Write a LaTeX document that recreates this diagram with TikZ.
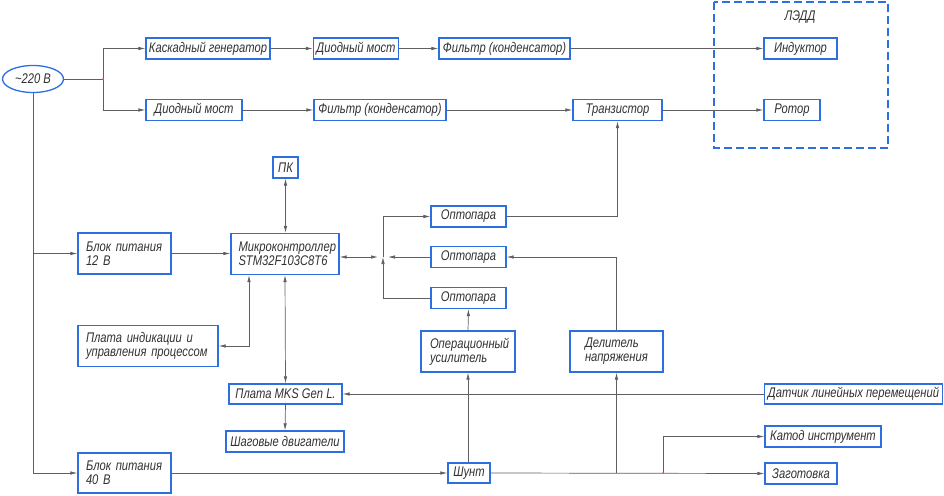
\documentclass[tikz,border=0pt]{standalone}
\usepackage{fontspec}
\newfontfamily\gostfont{Liberation Sans}[FakeStretch=0.8]
\usetikzlibrary{arrows.meta,shapes.geometric}
\definecolor{boxblue}{RGB}{45,110,225}
\definecolor{wiregray}{RGB}{95,95,95}
\definecolor{txtgray}{RGB}{50,50,50}
\begin{document}
\begin{tikzpicture}[x=1pt,y=-1pt,
  blk/.style={draw=boxblue,line width=1.3pt,fill=white,text=txtgray,
    font=\gostfont\itshape\fontsize{14}{14}\selectfont,
    inner xsep=3pt,inner ysep=0pt,minimum height=21pt},
  blktwo/.style={blk,align=left,inner xsep=8pt,minimum height=41pt},
  wire/.style={draw=wiregray,line width=0.7pt},
  arr/.style={wire,-{Latex[length=7pt,width=3.5pt]}},
  arrboth/.style={wire,{Latex[length=7pt,width=3.5pt]}-{Latex[length=7pt,width=3.5pt]}}]
\useasboundingbox (0,0) rectangle (944,495);

\node[blk,ellipse,minimum width=61pt,minimum height=27pt] (src) at (33,79) {\textasciitilde220~В};

\node[blk,minimum width=124pt] (kg) at (208,48.5) {Каскадный генератор};
\node[blk,minimum width=84pt] (dma) at (356,48.5) {Диодный мост};
\node[blk,minimum width=131pt] (fa) at (504.5,48.5) {Фильтр (конденсатор)};
\node[blk,minimum width=96pt] (dmb) at (194,110) {Диодный мост};
\node[blk,minimum width=132pt] (fb) at (380,110) {Фильтр (конденсатор)};
\node[blk,minimum width=89pt] (tr) at (617.5,110) {Транзистор};

\draw[boxblue,line width=1.3pt,dash pattern=on 8pt off 4pt] (714,2) rectangle (888,148);
\node[text=txtgray,font=\gostfont\itshape\fontsize{14}{14}\selectfont] (ledd) at (800,17) {ЛЭДД};
\node[blk,minimum width=73pt] (ind) at (800.5,48.5) {Индуктор};
\node[blk,minimum width=56pt] (rot) at (792,110) {Ротор};

\node[blk,minimum width=25pt] (pk) at (285.5,167.5) {ПК};
\node[blktwo,text width=93pt,inner xsep=7.5pt] (mk) at (285,254) {Микроконтроллер\\STM32F103C8T6};
\node[blktwo,text width=77pt] (bpa) at (124.5,253.5) {Блок~питания\\12~В};
\node[blktwo,text width=124pt] (pi) at (148,346) {Плата~индикации~и\\управления~процессом};
\node[blk,minimum width=113pt,minimum height=20pt] (mks) at (285.5,394) {Плата MKS Gen L.};
\node[blk,minimum width=118pt] (sd) at (285,441.5) {Шаговые двигатели};
\node[blktwo,text width=77pt,minimum height=40pt] (bpb) at (124.5,473) {Блок~питания\\40~В};

\node[blk,minimum width=75pt] (opa) at (468.5,216.5) {Оптопара};
\node[blk,minimum width=75pt] (opb) at (468.5,257) {Оптопара};
\node[blk,minimum width=75pt] (opc) at (468.5,298) {Оптопара};
\node[blktwo,text width=76pt,inner xsep=9pt] (ou) at (468,351.5) {Операционный\\усилитель};
\node[blktwo,text width=63pt,inner xsep=15pt] (del) at (616.5,351.5) {Делитель\\напряжения};
\node[blk,minimum width=42pt,minimum height=20pt] (sh) at (469,473) {Шунт};

\node[blk,minimum width=178pt,minimum height=20pt] (dat) at (853.5,394) {Датчик линейных перемещений};
\node[blk,minimum width=116pt] (kat) at (823,436.5) {Катод инструмент};
\node[blk,minimum width=72pt] (zag) at (801,473.5) {Заготовка};

\coordinate (sa) at (103,79);
\coordinate (oj) at (383,257);
\coordinate (ja) at (616.5,473);
\coordinate (jb) at (663,473);

\draw[wire] (src.east) -- (sa);
\draw[arr] (sa) |- (kg.west);
\draw[arr] (sa) |- (dmb.west);
\draw[arr] (kg.east) -- (dma.west);
\draw[arr] (dma.east) -- (fa.west);
\draw[arr] (fa.east) -- (ind.west);
\draw[arr] (dmb.east) -- (fb.west);
\draw[arr] (fb.east) -- (tr.west);
\draw[arr] (tr.east) -- (rot.west);

\draw[arr] (src.south) |- (bpb.west);
\draw[arr] (src.south |- bpa.west) -- (bpa.west);
\draw[arr] (bpa.east) -- (bpa.east -| mk.west);
\draw[arrboth] (pk.south) -- (pk.south |- mk.north);
\draw[arrboth] ([xshift=-36pt]mk.south) |- (pi.east);
\draw[arrboth] (mk.south) -- (mks.north);
\draw[arr] (mks.south) -- (sd.north);
\draw[arr] (dat.west) -- (mks.east);

\draw[arrboth,shorten >=5pt] (oj -| mk.east) -- (oj);
\draw[arr] (oj) |- (opa.west);
\draw[arr,shorten >=5pt] (opb.west) -- (oj);
\draw[arr] (opc.west) -| (oj);
\draw[arr] (opa.east) -| (tr.south);
\draw[arr] (del.north) |- (opb.east);
\draw[arr] (ou.north) -- (opc.south);

\draw[arr] (bpb.east) -- (sh.west);
\draw[arr] (sh.east) -- (zag.west);
\draw[arr] (sh.north -| ou.south) -- (ou.south);
\draw[arr] (ja) -- (del.south);
\draw[arr] (jb) |- (kat.west);

\fill[red!70] (sa) circle (1pt);
\fill[red!70] (jb) circle (1pt);
\end{tikzpicture}
\end{document}
